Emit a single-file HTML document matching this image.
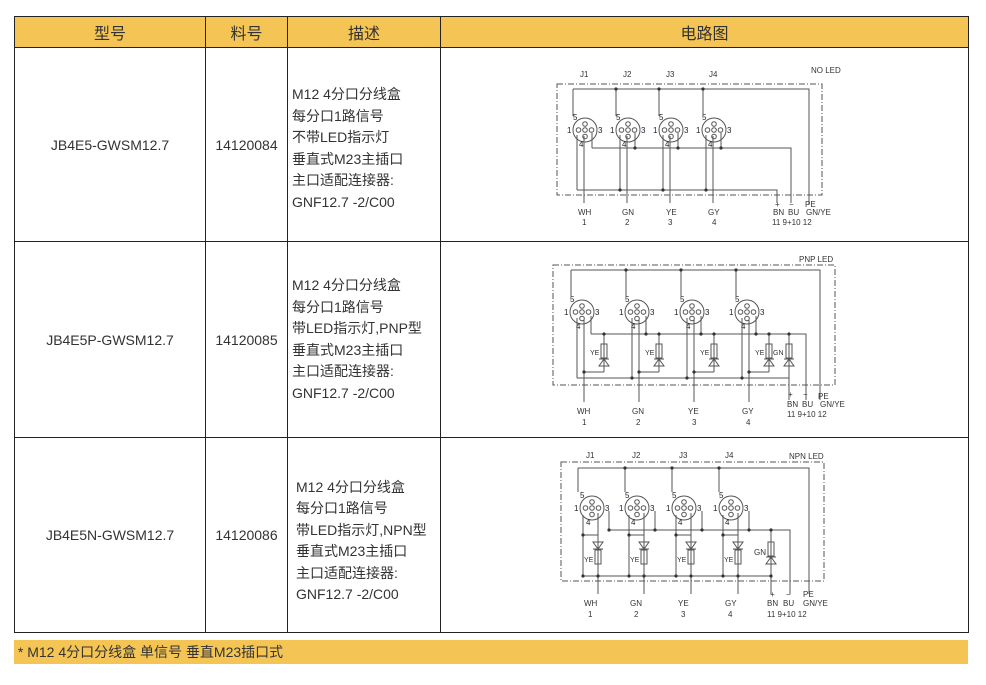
<!DOCTYPE html>
<html><head><meta charset="utf-8"><style>
body{margin:0;width:986px;height:685px;background:#fff;position:relative;overflow:hidden;font-family:"Liberation Sans","Noto Sans CJK SC",sans-serif;}
table{position:absolute;left:14px;top:16px;border-collapse:collapse;}
td,th{border:1.5px solid #222;padding:0;font-weight:normal;color:#333;}
th{background:#f4c554;height:30px;font-size:16px;color:#333;}
td{font-size:14px;}
.c{text-align:center}
.d{padding-left:4px;line-height:21.5px;}
.foot{position:absolute;left:14px;top:640px;width:954px;height:24px;background:#f4c554;font-size:14px;line-height:24px;color:#333;}
svg{position:absolute;left:0;top:0}
</style></head><body>
<table>
<tr><th style="width:190px">型号</th><th style="width:81px">料号</th><th style="width:152px">描述</th><th style="width:527px">电路图</th></tr>
<tr style="height:194px"><td class="c">JB4E5-GWSM12.7</td><td class="c">14120084</td><td class="d" style="padding-top:8px">M12 4分口分线盒<br>每分口1路信号<br>不带LED指示灯<br>垂直式M23主插口<br>主口适配连接器:<br>GNF12.7 -2/C00</td><td></td></tr>
<tr style="height:196px"><td class="c">JB4E5P-GWSM12.7</td><td class="c">14120085</td><td class="d">M12 4分口分线盒<br>每分口1路信号<br>带LED指示灯,PNP型<br>垂直式M23主插口<br>主口适配连接器:<br>GNF12.7 -2/C00</td><td></td></tr>
<tr style="height:195px"><td class="c">JB4E5N-GWSM12.7</td><td class="c">14120086</td><td class="d" style="padding-left:8px;padding-top:12px">M12 4分口分线盒<br>每分口1路信号<br>带LED指示灯,NPN型<br>垂直式M23主插口<br>主口适配连接器:<br>GNF12.7 -2/C00</td><td></td></tr>
</table>
<div class="foot">&nbsp;* M12 4分口分线盒 单信号 垂直M23插口式</div>
<svg width="986" height="685" font-family="Liberation Sans, sans-serif" font-size="8" fill="none" stroke="#555" stroke-width="1">
<defs>
<g id="cn"><circle r="12"/><circle cx="0" cy="-6" r="2.3"/><circle cx="-6.5" cy="0" r="2.3"/><circle cx="0" cy="0" r="2.3"/><circle cx="6.5" cy="0" r="2.3"/><circle cx="0" cy="6.5" r="2.3"/>
<g fill="#223" stroke="none" font-size="8"><text x="-12" y="-10">5</text><text x="-18" y="3">1</text><text x="13" y="3">3</text><text x="-6" y="17">4</text></g></g>
<g id="led"><rect x="-3" y="-8" width="6" height="14"/><path d="M-5 14h10l-5 -7z M-5 7h10"/></g>
</defs>
<!-- Diagram 1 -->
<rect x="557" y="84" width="265" height="111" stroke-dasharray="6,2,1,2"/>
<use href="#cn" x="585" y="130"/><use href="#cn" x="628" y="130"/><use href="#cn" x="671" y="130"/><use href="#cn" x="714" y="130"/>
<path d="M573 89H809V205 M573 89V116 M616 89V116 M659 89V116 M703 89V116 M592 148H791V203 M592 148V133 M635 148V133 M678 148V133 M721 148V133 M577 190H777V203 M577 190V135 M620 190V135 M663 190V135 M706 190V135 M584 136V203 M627 136V203 M670 136V203 M713 136V203"/>
<g fill="#333" stroke="none"><circle cx="616" cy="89" r="1.6"/><circle cx="659" cy="89" r="1.6"/><circle cx="703" cy="89" r="1.6"/><circle cx="635" cy="148" r="1.6"/><circle cx="678" cy="148" r="1.6"/><circle cx="721" cy="148" r="1.6"/><circle cx="620" cy="190" r="1.6"/><circle cx="663" cy="190" r="1.6"/><circle cx="706" cy="190" r="1.6"/>
<text x="580" y="77">J1</text><text x="623" y="77">J2</text><text x="666" y="77">J3</text><text x="709" y="77">J4</text><text x="811" y="73">NO LED</text>
<text x="578" y="215">WH</text><text x="622" y="215">GN</text><text x="666" y="215">YE</text><text x="708" y="215">GY</text>
<text x="582" y="225">1</text><text x="625" y="225">2</text><text x="668" y="225">3</text><text x="712" y="225">4</text>
<text x="775" y="207">+</text><text x="789" y="207">−</text><text x="805" y="207">PE</text>
<text x="773" y="215">BN</text><text x="788" y="215">BU</text><text x="806" y="215">GN/YE</text><text x="772" y="225">11  9+10  12</text></g>
<!-- Diagram 2 -->
<rect x="553" y="265" width="282" height="120" stroke-dasharray="6,2,1,2"/>
<use href="#cn" x="582" y="312"/><use href="#cn" x="637" y="312"/><use href="#cn" x="692" y="312"/><use href="#cn" x="747" y="312"/>
<path d="M571 270H820V400 M571 270V296 M626 270V296 M681 270V296 M736 270V296 M591 334H806V400 M591 334V316 M646 334V316 M701 334V316 M756 334V316 M577 378H789V400 M577 378V318 M632 378V318 M687 378V318 M742 378V318 M584 320V402 M639 320V402 M694 320V402 M749 320V402 M604 334V372 M659 334V372 M714 334V372 M769 334V372 M789 334V378 M584 372H604 M639 372H659 M694 372H714 M749 372H769"/>
<use href="#led" x="604" y="352"/><use href="#led" x="659" y="352"/><use href="#led" x="714" y="352"/><use href="#led" x="769" y="352"/><use href="#led" x="789" y="352"/>
<g fill="#333" stroke="none"><circle cx="626" cy="270" r="1.6"/><circle cx="681" cy="270" r="1.6"/><circle cx="736" cy="270" r="1.6"/><circle cx="604" cy="334" r="1.6"/><circle cx="646" cy="334" r="1.6"/><circle cx="659" cy="334" r="1.6"/><circle cx="701" cy="334" r="1.6"/><circle cx="714" cy="334" r="1.6"/><circle cx="756" cy="334" r="1.6"/><circle cx="769" cy="334" r="1.6"/><circle cx="789" cy="334" r="1.6"/><circle cx="584" cy="372" r="1.6"/><circle cx="639" cy="372" r="1.6"/><circle cx="694" cy="372" r="1.6"/><circle cx="749" cy="372" r="1.6"/><circle cx="632" cy="378" r="1.6"/><circle cx="687" cy="378" r="1.6"/><circle cx="742" cy="378" r="1.6"/>
<text x="799" y="262">PNP LED</text>
<text x="590" y="355" font-size="7">YE</text><text x="645" y="355" font-size="7">YE</text><text x="700" y="355" font-size="7">YE</text><text x="755" y="355" font-size="7">YE</text><text x="773" y="355" font-size="7">GN</text>
<text x="577" y="414">WH</text><text x="632" y="414">GN</text><text x="688" y="414">YE</text><text x="742" y="414">GY</text>
<text x="582" y="425">1</text><text x="636" y="425">2</text><text x="692" y="425">3</text><text x="746" y="425">4</text>
<text x="788" y="397">+</text><text x="803" y="397">−</text><text x="818" y="399">PE</text>
<text x="787" y="407">BN</text><text x="802" y="407">BU</text><text x="820" y="407">GN/YE</text><text x="787" y="417">11  9+10  12</text></g>
<!-- Diagram 3 -->
<rect x="561" y="462" width="263" height="119" stroke-dasharray="6,2,1,2"/>
<use href="#cn" x="592" y="508"/><use href="#cn" x="637" y="508"/><use href="#cn" x="684" y="508"/><use href="#cn" x="731" y="508"/>
<path d="M578 468H809V594 M578 468V492 M625 468V492 M672 468V492 M719 468V492 M609 530H790V594 M609 530V511 M655 530V511 M702 530V511 M749 530V511 M583 576H771V594 M583 576V515 M629 576V515 M676 576V515 M723 576V515 M598 513V594 M644 513V594 M691 513V594 M738 513V594 M583 535H598V576 M629 535H644 M676 535H691 M723 535H738 M771 530V576"/>
<use href="#led" x="598" y="556" transform="rotate(180 598 556)"/><use href="#led" x="644" y="556" transform="rotate(180 644 556)"/><use href="#led" x="691" y="556" transform="rotate(180 691 556)"/><use href="#led" x="738" y="556" transform="rotate(180 738 556)"/><use href="#led" x="771" y="550"/>
<g fill="#333" stroke="none"><circle cx="625" cy="468" r="1.6"/><circle cx="672" cy="468" r="1.6"/><circle cx="719" cy="468" r="1.6"/><circle cx="609" cy="530" r="1.6"/><circle cx="655" cy="530" r="1.6"/><circle cx="702" cy="530" r="1.6"/><circle cx="749" cy="530" r="1.6"/><circle cx="771" cy="530" r="1.6"/><circle cx="583" cy="535" r="1.6"/><circle cx="629" cy="535" r="1.6"/><circle cx="676" cy="535" r="1.6"/><circle cx="723" cy="535" r="1.6"/><circle cx="583" cy="576" r="1.6"/><circle cx="598" cy="576" r="1.6"/><circle cx="629" cy="576" r="1.6"/><circle cx="644" cy="576" r="1.6"/><circle cx="676" cy="576" r="1.6"/><circle cx="691" cy="576" r="1.6"/><circle cx="723" cy="576" r="1.6"/><circle cx="738" cy="576" r="1.6"/><circle cx="771" cy="576" r="1.6"/>
<text x="586" y="458">J1</text><text x="632" y="458">J2</text><text x="679" y="458">J3</text><text x="725" y="458">J4</text><text x="789" y="459">NPN LED</text>
<text x="584" y="562" font-size="7">YE</text><text x="630" y="562" font-size="7">YE</text><text x="677" y="562" font-size="7">YE</text><text x="724" y="562" font-size="7">YE</text><text x="754" y="555">GN</text>
<text x="584" y="606">WH</text><text x="630" y="606">GN</text><text x="678" y="606">YE</text><text x="725" y="606">GY</text>
<text x="588" y="617">1</text><text x="634" y="617">2</text><text x="681" y="617">3</text><text x="728" y="617">4</text>
<text x="770" y="597">+</text><text x="786" y="597">−</text><text x="803" y="597">PE</text>
<text x="767" y="606">BN</text><text x="783" y="606">BU</text><text x="803" y="606">GN/YE</text><text x="767" y="617">11  9+10  12</text></g>
</svg>
</body></html>
